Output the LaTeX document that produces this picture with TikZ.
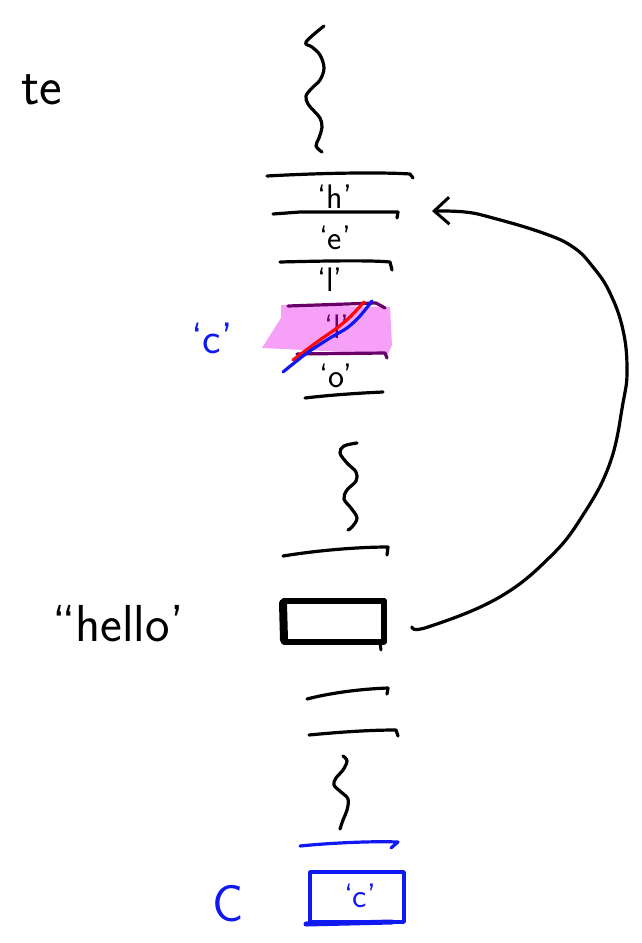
\documentclass[tikz,border=0pt]{standalone}
\usetikzlibrary{arrows.meta}
\definecolor{pinkfill}{RGB}{247,160,247}
\definecolor{purp}{RGB}{105,0,105}
\definecolor{pblue}{RGB}{15,25,240}
\definecolor{pred}{RGB}{250,10,10}
\begin{document}
\begin{tikzpicture}[x=1pt,y=-1pt,line cap=round,line join=round,
  ink/.style={line width=3.2pt,black},
  bink/.style={line width=3.2pt,pblue},
  pink/.style={line width=3.2pt,purp},
  cell/.style={font=\sffamily\fontsize{34}{36}\selectfont,inner sep=0pt},
  big/.style={font=\sffamily\fontsize{54}{58}\selectfont,inner sep=0pt}]
\useasboundingbox (0,0) rectangle (641,943);

% left labels
\node[big] (lte) at (42,90) {te};
\node[cell,pblue,font=\sffamily\fontsize{44}{46}\selectfont] (lc) at (212,338) {`c'};
\node[big,font=\sffamily\fontsize{52}{56}\selectfont] (lhello) at (118,624) {\textquotedblleft hello'};
\node[big,pblue,font=\sffamily\fontsize{52}{56}\selectfont] (lC) at (228,904) {C};

% top squiggle
\draw[ink] plot[smooth,tension=0.6] coordinates {(324,26) (306,42) (312,47) (320,55) (324,68) (320,80) (312,88) (306,96) (308,104) (314,111) (320,118) (322,127) (319,138) (316,146) (322,152)};

% string cells
\draw[ink] (267,176) .. controls (320,173) and (380,172) .. (410,174) -- (413,178);
\draw[ink] (273,214) -- (300,212) -- (398,212) -- (397,218);
\node[cell] (ch) at (335,197) {`h'};
\node[cell] (ce) at (335,238) {`e'};
\draw[ink] (280,262) .. controls (320,261) and (370,260) .. (390,262) -- (392,270);
\node[cell] (cl1) at (330,280) {`l'};

% highlighted cell
\fill[pinkfill] (262,348) -- (281,318) -- (281,305) -- (390,307) -- (392,345) -- (388,354) -- cycle;
\draw[pink] (288,306) -- (376,303) -- (385,308);
\draw[pink] (297,354) -- (385,353) -- (387,358);
\node[cell,purp] (cl2) at (337,327) {`l'};
\draw[line width=3.2pt,pred] plot[smooth] coordinates {(293,360) (317,342) (337,328) (350,317) (364,302)};
\draw[bink] plot[smooth] coordinates {(283,372) (307,353) (330,338) (347,328) (360,316) (372,301)};

\node[cell] (co) at (336,376) {`o'};
\draw[ink] (305,398) .. controls (330,395) and (360,393) .. (383,392);

% second squiggle
\draw[ink] plot[smooth,tension=0.6] coordinates {(357,443) (344,446) (340,453) (347,463) (356,472) (356,481) (347,490) (344,499) (351,508) (357,518) (352,527) (348,530)};
\draw[ink] (283,556) .. controls (320,550) and (360,547) .. (388,547) -- (387,555);

% hello pointer box
\node[draw,line width=6pt,minimum width=100pt,minimum height=41pt,inner sep=0pt] (hbox) at (334,621) {};
\draw[line width=8pt] (283,603) -- (284,640);
\draw[line width=3pt] (380,643) -- (381,650);

% lower cells
\draw[ink] (307,699) .. controls (330,693) and (360,689) .. (388,688) -- (387,694);
\draw[ink] (309,735) .. controls (340,732) and (370,730) .. (396,730) -- (398,736);

% third squiggle
\draw[ink] plot[smooth,tension=0.6] coordinates {(343,756) (347,761) (343,770) (336,778) (334,785) (341,792) (348,799) (347,810) (343,820) (340,829)};

% blue char cell
\draw[bink] (300,846) .. controls (330,843) and (370,841) .. (398,842) -- (391,848);
\node[draw=pblue,line width=3.5pt,minimum width=94pt,minimum height=50pt,inner sep=0pt] (cbox) at (357,897) {};
\node[cell,pblue] (cc) at (360,896) {`c'};
\draw[line width=5pt,pblue] (306,924) -- (392,922);

% pointer arc from box to 'h' cell
\coordinate (arcS) at (412,627);
\coordinate (arcE) at (432,211);
\draw[ink,-{Straight Barb[length=15pt,width=27pt,line width=3pt]}]
  plot[smooth,tension=0.7] coordinates {(arcS) (428,627) (498,598) (550,557) (583,515) (610,463) (623,403) (627,370) (623,330) (610,293) (593,267) (573,247) (543,233) (493,218) (465,212) (arcE)};
\end{tikzpicture}
\end{document}
